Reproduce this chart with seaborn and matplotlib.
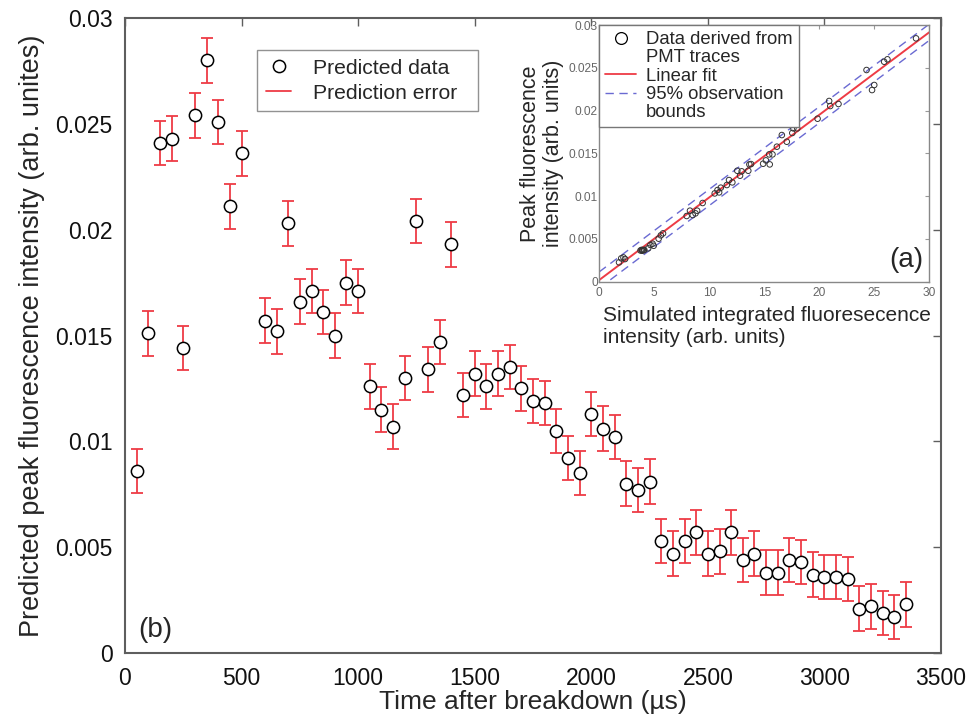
import numpy as np
import pandas as pd
import matplotlib
matplotlib.use("Agg")
import matplotlib.pyplot as plt
import seaborn as sns
from matplotlib.lines import Line2D

# ---- main panel (b): predicted peak fluorescence vs time ----
time_us = [50, 100, 150, 200, 250, 300, 350, 400, 450, 500,
           600, 650, 700, 750, 800, 850, 900, 950, 1000,
           1050, 1100, 1150, 1200, 1250, 1300, 1350, 1400, 1450, 1500,
           1550, 1600, 1650, 1700, 1750, 1800, 1850, 1900, 1950, 2000,
           2050, 2100, 2150, 2200, 2250, 2300, 2350, 2400, 2450, 2500,
           2550, 2600, 2650, 2700, 2750, 2800, 2850, 2900, 2950, 3000,
           3050, 3100, 3150, 3200, 3250, 3300, 3350]
predicted_peak = [0.0086, 0.0151, 0.0241, 0.0243, 0.0144, 0.0254, 0.0280, 0.0251, 0.0211, 0.0236,
                  0.0157, 0.0152, 0.0203, 0.0166, 0.0171, 0.0161, 0.0150, 0.0175, 0.0171,
                  0.0126, 0.0115, 0.0107, 0.0130, 0.0204, 0.0134, 0.0147, 0.0193, 0.0122, 0.0132,
                  0.0126, 0.0132, 0.0135, 0.0125, 0.0119, 0.0118, 0.0105, 0.0092, 0.0085, 0.0113,
                  0.0106, 0.0102, 0.0080, 0.0077, 0.0081, 0.0053, 0.0047, 0.0053, 0.0057, 0.0047,
                  0.0048, 0.0057, 0.0044, 0.0047, 0.0038, 0.0038, 0.0044, 0.0043, 0.0037, 0.0036,
                  0.0036, 0.0035, 0.0021, 0.0022, 0.0019, 0.0017, 0.0023]
prediction_error = 0.00105

x_ticks_main = [0, 500, 1000, 1500, 2000, 2500, 3000, 3500]
y_ticks_main = [0, 0.005, 0.01, 0.015, 0.02, 0.025, 0.03]
y_ticklabels_main = ["0", "0.005", "0.01", "0.015", "0.02", "0.025", "0.03"]

# ---- inset panel (a): calibration against simulated integrated intensity ----
sim_integrated = [1.8, 2.0, 2.2, 2.35, 3.75, 3.85, 3.9, 3.95, 4.05, 4.1, 4.45, 4.65, 4.85, 4.95,
                  5.4, 5.6, 5.8, 7.95, 8.25, 8.5, 8.75, 8.9, 9.4, 10.5, 10.75, 10.9, 11.05,
                  11.6, 11.8, 12.1, 12.55, 12.8, 12.95, 13.55, 13.65, 13.8, 14.9, 15.15, 15.5,
                  15.45, 15.75, 16.15, 16.6, 17.05, 17.55, 17.65, 18.0, 19.85, 20.9, 21.0,
                  21.75, 24.3, 24.8, 25.0, 25.9, 26.2, 28.8]
peak_from_pmt = [0.00226, 0.00273, 0.00284, 0.00265, 0.00365, 0.00372, 0.00362, 0.0037, 0.00368,
                 0.00372, 0.0039, 0.00429, 0.00444, 0.0042, 0.00503, 0.00542, 0.00565, 0.00768,
                 0.0083, 0.00779, 0.00799, 0.0083, 0.0092, 0.01032, 0.01071, 0.01044, 0.01099,
                 0.0113, 0.01188, 0.01161, 0.01297, 0.01239, 0.0129, 0.01297, 0.01371, 0.01375,
                 0.01379, 0.01418, 0.01371, 0.01488, 0.01488, 0.01578, 0.01714, 0.01636, 0.01738,
                 0.01792, 0.01792, 0.01905, 0.02112, 0.02053, 0.02077, 0.02474, 0.0224, 0.02299,
                 0.02571, 0.02599, 0.02844]
fit_slope = 0.000965
fit_intercept = 0.0002
bound_halfwidth = 0.00095

x_ticks_inset = [0, 5, 10, 15, 20, 25, 30]
y_ticks_inset = [0, 0.005, 0.01, 0.015, 0.02, 0.025, 0.03]
y_ticklabels_inset = ["0", "0.005", "0.01", "0.015", "0.02", "0.025", "0.03"]

RED = "#ee3b45"
BLUE = "#6a6ad2"
SPINE = "#5e5e5e"

sns.set_theme(style="white")
plt.rcParams["font.family"] = ["Liberation Sans", "DejaVu Sans"]
plt.rcParams["mathtext.default"] = "regular"

fig = plt.figure(figsize=(9.72, 7.27), dpi=100)
ax = fig.add_axes([0.1286, 0.1018, 0.8395, 0.8734])

main_df = pd.DataFrame({"time": time_us, "peak": predicted_peak})
ax.errorbar(main_df["time"], main_df["peak"], yerr=prediction_error, fmt="none",
            ecolor=RED, elinewidth=1.3, capsize=4.3, capthick=1.3, zorder=2)
sns.scatterplot(data=main_df, x="time", y="peak", ax=ax, marker="o", s=78,
                facecolor="white", edgecolor="black", linewidth=1.1, zorder=3, legend=False)

ax.set_xlim(0, 3500)
ax.set_ylim(0, 0.03)
ax.set_xticks(x_ticks_main)
ax.set_yticks(y_ticks_main)
ax.set_yticklabels(y_ticklabels_main)
ax.tick_params(direction="in", length=6, width=1, colors=SPINE, labelcolor="#111111",
               labelsize=16.5, top=True, right=True)
ax.tick_params(axis="x", pad=10)
ax.tick_params(axis="y", pad=9)
for sp in ax.spines.values():
    sp.set_color(SPINE)
    sp.set_linewidth(1.5)
ax.set_xlabel("Time after breakdown (µs)", fontsize=19, labelpad=0)
ax.set_ylabel("Predicted peak fluorescence intensity (arb. unites)", fontsize=19.5, labelpad=7)
ax.text(0.016, 0.025, "(b)", transform=ax.transAxes, fontsize=20, ha="left", va="baseline")

main_handles = [
    Line2D([], [], marker="o", linestyle="none", markerfacecolor="white",
           markeredgecolor="black", markersize=8.8, markeredgewidth=1.1),
    Line2D([], [], color=RED, linewidth=1.3),
]
leg = ax.legend(main_handles, ["Predicted data", "Prediction error"],
                loc="upper left", bbox_to_anchor=(0.162, 0.852, 0.270, 0.098),
                mode="expand", fontsize=15.2,
                frameon=True, fancybox=False, borderpad=0.42, handlelength=1.2,
                handletextpad=1.0, labelspacing=0.28, borderaxespad=0)
leg.get_frame().set_edgecolor("#777777")
leg.get_frame().set_linewidth(1.0)

# ---- inset ----
ins = fig.add_axes([0.6165, 0.6125, 0.3395, 0.3531])
ins.set_facecolor("white")
xs = np.array(x_ticks_inset, dtype=float)
fit_df = pd.DataFrame({"x": [xs[0], xs[-1]]})
fit_df["fit"] = fit_slope * fit_df["x"] + fit_intercept
fit_df["upper"] = fit_df["fit"] + bound_halfwidth
fit_df["lower"] = fit_df["fit"] - bound_halfwidth

sns.lineplot(data=fit_df, x="x", y="upper", ax=ins, color=BLUE, linewidth=1.0,
             dashes=False, linestyle=(0, (6, 4)))
sns.lineplot(data=fit_df, x="x", y="lower", ax=ins, color=BLUE, linewidth=1.0,
             dashes=False, linestyle=(0, (6, 4)))
sns.lineplot(data=fit_df, x="x", y="fit", ax=ins, color=RED, linewidth=1.4)
inset_df = pd.DataFrame({"sim": sim_integrated, "pmt": peak_from_pmt})
sns.scatterplot(data=inset_df, x="sim", y="pmt", ax=ins, marker="o", s=16,
                facecolor="none", edgecolor="#333333", linewidth=0.7, zorder=3, legend=False)

ins.set_xlim(0, 30)
ins.set_ylim(0, 0.03)
ins.set_xticks(x_ticks_inset)
ins.set_yticks(y_ticks_inset)
ins.set_yticklabels(y_ticklabels_inset)
ins.tick_params(direction="in", length=3, width=0.8, colors="#999999", labelcolor="#666666",
                labelsize=8.6, top=True, right=True)
ins.tick_params(axis="x", pad=4)
ins.tick_params(axis="y", pad=1)
for sp in ins.spines.values():
    sp.set_color("#888888")
    sp.set_linewidth(1.0)
ins.set_xlabel("Simulated integrated fluoresecence\nintensity (arb. units)", fontsize=15,
               linespacing=1.2, labelpad=5, ha="left", x=0.01)
ins.set_ylabel("Peak fluorescence\nintensity (arb. units)", fontsize=15.5,
               linespacing=1.15, labelpad=3)
ins.text(0.982, 0.057, "(a)", transform=ins.transAxes, fontsize=20, ha="right", va="baseline")

# legend laid out line by line so each symbol sits beside the first line of its label
blank = Line2D([], [], linestyle="none")
inset_handles = [
    Line2D([], [], marker="o", linestyle="none", markerfacecolor="none",
           markeredgecolor="black", markersize=8.5, markeredgewidth=0.9),
    blank,
    Line2D([], [], color=RED, linewidth=1.3),
    Line2D([], [], color=BLUE, linewidth=1.0, linestyle=(0, (6, 4))),
    blank,
]
inset_labels = ["Data derived from", "PMT traces", "Linear fit", "95% observation", "bounds"]
ileg = ins.legend(inset_handles, inset_labels,
                  loc="upper left", bbox_to_anchor=(0.0, 1.0), fontsize=13.3,
                  frameon=True, fancybox=False, borderpad=0.33, handlelength=1.65,
                  handletextpad=0.55, labelspacing=0.07, borderaxespad=0)
ileg.get_frame().set_edgecolor("#777777")
ileg.get_frame().set_linewidth(1.0)
ileg.get_frame().set_alpha(1.0)

fig.savefig("out.png", dpi=100)
